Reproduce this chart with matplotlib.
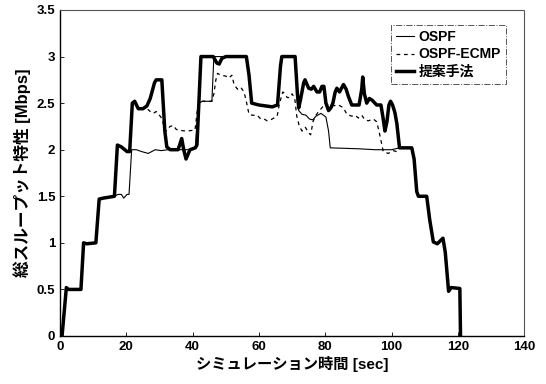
import numpy as np
import matplotlib
matplotlib.use("Agg")
import matplotlib.pyplot as plt

plt.rcParams['font.family'] = ['Liberation Sans', 'Noto Sans CJK JP', 'DejaVu Sans']
plt.rcParams['font.weight'] = 'bold'

# shared rise (all three methods identical here)
head_t = [0.6, 1.9, 2.5, 6.3, 7.1, 8.0, 10.8, 11.8, 13.0, 16.4]
head_v = [0.0, 0.52, 0.5, 0.5, 1.0, 0.99, 1.0, 1.47, 1.48, 1.5]

# shared fall
tail_t = [102.4, 106.1, 106.8, 107.6, 108.1, 110.6, 111.5, 112.6, 113.8, 115.5, 116.2, 117.2, 118.0, 120.6, 120.8]
tail_v = [2.02, 2.02, 1.9, 1.55, 1.5, 1.5, 1.25, 1.01, 0.99, 1.05, 0.9, 0.48, 0.52, 0.51, 0.0]

# 提案手法 (middle part)
prop_t = [17.3, 18.5, 20.2, 21.0, 21.8, 22.5, 23.6, 25.0, 26.2, 27.2, 28.5, 29.0, 30.7, 31.6, 32.2,
          33.2, 35.6, 36.7, 37.3, 38.0, 39.2, 40.8, 41.3, 42.5, 46.2, 47.3, 48.0, 48.8, 50.0, 56.2,
          57.0, 57.8, 60.0, 62.0, 64.0, 65.6, 66.5, 66.9, 70.9, 71.6, 72.0, 72.6, 73.5, 73.9, 75.0,
          75.8, 76.5, 77.5, 78.3, 79.0, 79.6, 80.2, 81.0, 81.7, 82.3, 83.0, 83.5, 84.3, 85.5, 86.3,
          87.0, 88.0, 90.2, 91.0, 91.3, 91.8, 92.5, 93.3, 94.2, 95.5, 96.8, 97.4, 98.0, 98.6, 99.2,
          99.7, 100.3, 101.0, 101.6]
prop_v = [2.05, 2.03, 1.98, 1.98, 2.50, 2.52, 2.44, 2.44, 2.47, 2.55, 2.72, 2.75, 2.75, 2.2, 2.03,
          2.0, 2.0, 2.12, 2.0, 1.9, 2.0, 2.02, 2.05, 3.0, 3.0, 2.93, 2.92, 2.98, 3.0, 3.0,
          2.8, 2.5, 2.48, 2.47, 2.46, 2.48, 2.9, 3.0, 3.0, 2.6, 2.45, 2.55, 2.72, 2.75, 2.66,
          2.65, 2.68, 2.62, 2.62, 2.68, 2.68, 2.5, 2.42, 2.45, 2.5, 2.62, 2.66, 2.62, 2.70, 2.65,
          2.57, 2.48, 2.48, 2.65, 2.78, 2.6, 2.5, 2.55, 2.53, 2.48, 2.48, 2.35, 2.2, 2.3, 2.48,
          2.52, 2.48, 2.4, 2.28]

# OSPF (middle part)
ospf_t = [17.5, 18.5, 19.2, 20.2, 20.8, 21.6, 23.0, 24.6, 26.6, 28.7, 30.5, 32.5, 35.0, 37.0, 39.0,
          40.8, 41.8, 43.0, 45.8, 46.4, 56.2, 57.0, 57.8, 60.0, 62.0, 64.0, 65.6, 66.5, 66.9, 70.9,
          71.6, 72.0, 73.0, 74.2, 75.2, 76.2, 77.2, 78.7, 79.5, 80.2, 81.0, 81.5, 90.0, 95.0, 100.0]
ospf_v = [1.52, 1.52, 1.48, 1.52, 1.52, 2.0, 2.0, 1.98, 1.96, 2.0, 1.99, 2.0, 2.0, 2.0, 2.0,
          2.02, 2.5, 2.52, 2.52, 3.0, 3.0, 2.8, 2.5, 2.48, 2.47, 2.46, 2.48, 2.9, 3.0, 3.0,
          2.5, 2.42, 2.38, 2.37, 2.33, 2.32, 2.36, 2.39, 2.37, 2.35, 2.2, 2.02, 2.01, 2.0, 2.0]

# OSPF-ECMP (middle part)
ecmp_t = [17.3, 18.5, 20.2, 21.0, 21.8, 22.5, 23.6, 25.0, 26.6, 27.2, 28.1, 29.0, 30.2, 30.8, 31.5,
          32.0, 33.2, 34.2, 35.0, 35.6, 38.0, 40.7, 41.5, 42.2, 45.8, 46.4, 47.0, 47.5, 48.5, 50.0,
          51.0, 51.8, 52.5, 53.5, 54.5, 55.5, 56.3, 57.0, 58.0, 59.5, 60.5, 61.5, 62.5, 63.5, 64.5,
          65.5, 66.2, 67.2, 67.9, 68.5, 69.4, 70.0, 70.8, 71.4, 72.2, 73.0, 74.0, 75.0, 75.6, 76.3,
          77.0, 78.0, 79.0, 80.0, 81.0, 82.0, 84.0, 85.5, 86.5, 88.0, 89.0, 90.0, 91.0, 92.0, 93.0,
          94.5, 95.5, 96.2, 96.8, 97.5, 99.0, 100.5, 101.5]
ecmp_v = [2.05, 2.03, 1.98, 1.98, 2.5, 2.5, 2.44, 2.44, 2.43, 2.41, 2.39, 2.41, 2.36, 2.33, 2.22,
          2.2, 2.25, 2.26, 2.22, 2.21, 2.2, 2.21, 2.45, 2.52, 2.52, 2.6, 2.75, 2.82, 2.80, 2.79,
          2.77, 2.8, 2.7, 2.65, 2.67, 2.62, 2.5, 2.38, 2.37, 2.37, 2.33, 2.33, 2.31, 2.32, 2.34,
          2.36, 2.5, 2.62, 2.6, 2.56, 2.56, 2.6, 2.55, 2.36, 2.25, 2.2, 2.24, 2.18, 2.16, 2.3,
          2.36, 2.41, 2.45, 2.5, 2.48, 2.47, 2.48, 2.45, 2.38, 2.36, 2.37, 2.34, 2.37, 2.32, 2.31,
          2.33, 2.3, 2.2, 2.1, 1.98, 1.96, 1.99, 1.98]

labels = ["OSPF", "OSPF-ECMP", "提案手法"]


def full(mid_t, mid_v):
    return head_t + mid_t + tail_t, head_v + mid_v + tail_v


fig = plt.figure(figsize=(5.46, 3.84), dpi=100)
ax = fig.add_axes([0.110, 0.125, 0.850, 0.849])

t, v = full(ospf_t, ospf_v)
ax.plot(t, v, '-', color='black', lw=0.8, label=labels[0])
t, v = full(ecmp_t, ecmp_v)
ax.plot(t, v, '--', color='black', lw=0.9, dashes=(3, 3), label=labels[1])
t, v = full(prop_t, prop_v)
ax.plot(t, v, '-', color='black', lw=2.5, label=labels[2])

ax.set_xlim(0, 140)
ax.set_ylim(0, 3.5)
ax.set_xticks(np.arange(0, 141, 20))
ax.set_yticks(np.arange(0, 3.51, 0.5))
ax.set_yticklabels(["0", "0.5", "1", "1.5", "2", "2.5", "3", "3.5"])
ax.tick_params(direction='in', length=3, width=0.6, labelsize=9.5)
for lab in ax.get_xticklabels() + ax.get_yticklabels():
    lab.set_fontweight('bold')

ax.spines['left'].set_linewidth(1.0)
ax.spines['bottom'].set_linewidth(1.0)
for s in ['top', 'right']:
    ax.spines[s].set_linestyle((0, (1, 1)))
    ax.spines[s].set_color('#555555')
    ax.spines[s].set_linewidth(0.8)

ax.set_xlabel("シミュレーション時間 [sec]", fontsize=11, fontweight='bold', labelpad=2)
ax.set_ylabel("総スループット特性 [Mbps]", fontsize=12, fontweight='bold', labelpad=4)

leg = ax.legend(loc='upper right', bbox_to_anchor=(0.975, 0.975), fontsize=10,
                handlelength=1.3, handletextpad=0.3, labelspacing=0.25,
                borderpad=0.35, fancybox=False, framealpha=1)
leg.get_frame().set_edgecolor('#555555')
leg.get_frame().set_linestyle('-.')
leg.get_frame().set_linewidth(0.7)
for txt in leg.get_texts():
    txt.set_fontweight('bold')

fig.savefig("out.png", dpi=100)
